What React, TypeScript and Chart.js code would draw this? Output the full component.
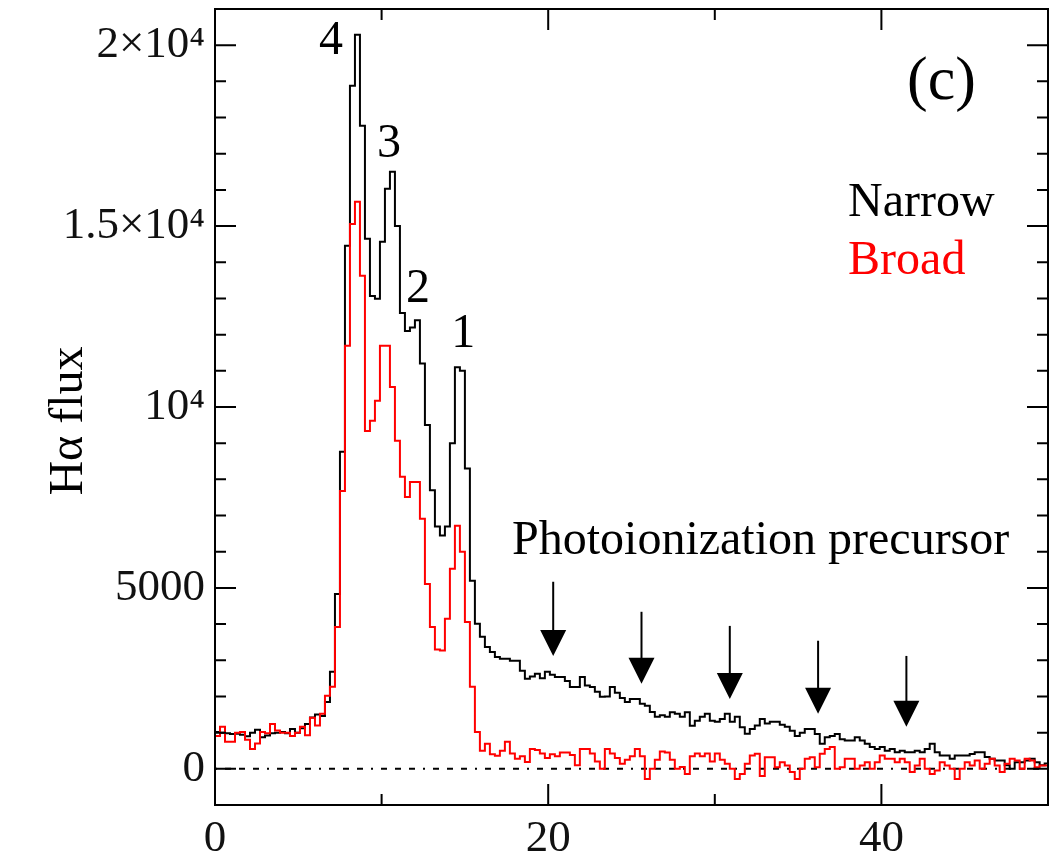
import React, { useEffect, useRef } from 'react';
import { Chart, registerables } from 'chart.js';

Chart.register(...registerables);

// Histogram bin width (x units) – bins start at 0
const BIN_WIDTH = 0.3;

// Narrow-component H-alpha flux per bin
const narrow = [
  1020, 1000, 980, 960, 970, 940, 900, 1000, 1080, 870,
  920, 980, 1000, 1020, 980, 1100, 1000, 1120, 1240, 1420,
  1500, 1460, 1850, 2680, 4830, 8760, 14460, 18880, 20290, 17770,
  14650, 13070, 12990, 14570, 16030, 16500, 15000, 12600, 12100, 12200,
  12400, 11200, 9500, 7700, 6700, 6450, 6700, 9000, 11100, 11000,
  8300, 5200, 4010, 3650, 3370, 3230, 3090, 3040, 3040, 2990,
  2990, 2710, 2490, 2550, 2630, 2500, 2680, 2600, 2540, 2540,
  2430, 2260, 2260, 2540, 2300, 2260, 2130, 1990, 2000, 2260,
  2100, 1960, 1850, 1930, 1930, 1800, 1740, 1570, 1440, 1480,
  1440, 1560, 1520, 1440, 1560, 1190, 1330, 1440, 1520, 1330,
  1300, 1380, 1520, 1300, 1440, 1150, 970, 1100, 1200, 1380,
  1250, 1300, 1300, 1220, 1160, 1050, 910, 1000, 1100, 1100,
  960, 690, 870, 910, 960, 820, 780, 780, 870, 780,
  690, 600, 550, 600, 500, 550, 460, 500, 460, 460,
  500, 460, 550, 690, 460, 370, 370, 280, 370, 370,
  370, 410, 460, 460, 330, 280, 230, 230, 100, 0,
  180, 180, 230, 280, 180, 100, 150,
];

// Broad-component H-alpha flux per bin
const broad = [
  910, 1160, 750, 750, 1000, 1020, 800, 550, 700, 1020,
  980, 1240, 1060, 1000, 1000, 910, 1000, 1160, 930, 1410,
  1200, 1520, 2020, 2270, 3920, 7680, 11690, 15060, 15670, 13630,
  9340, 9620, 10170, 11690, 11690, 10550, 9070, 8070, 7510, 7930,
  7930, 6910, 5110, 3920, 3300, 3270, 4150, 5530, 6720, 6000,
  4060, 2270, 1020, 500, 690, 400, 360, 500, 750, 420,
  280, 350, 190, 550, 520, 420, 300, 400, 350, 450,
  450, 380, 100, 550, 550, 420, 200, 0, 550, 420,
  300, 140, 250, 350, 550, 350, -280, 0, 250, 480,
  450, 250, 0, 50, -140, 350, 420, 350, 420, 200,
  420, 250, 140, 0, -280, -140, 140, 370, 415, -200,
  320, 320, 45, 180, 90, -90, -280, 0, 280, 320,
  45, 415, 550, 600, 0, 45, 280, 280, 0, 90,
  180, 0, 180, 370, 280, 280, 180, 280, 180, -90,
  90, 280, 0, -140, -45, 180, 90, 0, -280, 0,
  180, 90, 230, 0, 140, 280, 90, -90, 140, 280,
  230, 0, 280, 230, 45, 90, 90,
];

// Axis ranges and ticks
const X_MIN = 0;
const X_MAX = 50;
const Y_MIN = -1000;
const Y_MAX = 21000;
const xTickValues = [0, 20, 40];
const xTickLabels = ['0', '20', '40'];
const yTickValues = [0, 5000, 10000, 15000, 20000];
const yTickLabels = ['0', '5000', '10\u2074', '1.5\u00d710\u2074', '2\u00d710\u2074'];
const X_MINOR = 10;
const X_MAJOR = 20;
const Y_MINOR = 1000;
const Y_MAJOR = 5000;

// Peak labels
const peakLabels = ['4', '3', '2', '1'];
const peakX = [6.97, 10.45, 12.19, 14.9];
const peakY = [19760, 16915, 12910, 11660];

// Photoionization precursor arrows
const arrowX = [20.3, 25.6, 30.9, 36.2, 41.5];
const arrowTail = [5170, 4340, 3950, 3540, 3120];
const arrowTip = [3120, 2350, 1930, 1520, 1160];

const FONT = '"Liberation Serif", "Times New Roman", serif';

const toPoints = (vals: number[]) => {
  const pts = vals.map((v, i) => ({ x: i * BIN_WIDTH, y: v }));
  pts.push({ x: vals.length * BIN_WIDTH, y: vals[vals.length - 1] });
  return pts;
};

const decorPlugin = {
  id: 'decor',
  beforeDatasetsDraw(chart: any) {
    const { ctx, chartArea: a, scales } = chart;
    const y0 = scales.y.getPixelForValue(0);
    ctx.save();
    ctx.beginPath();
    ctx.rect(a.left, a.top, a.width, a.height);
    ctx.clip();
    ctx.strokeStyle = '#000';
    ctx.lineWidth = 2;
    ctx.setLineDash([2, 8, 6, 8, 6, 8, 6, 8]);
    ctx.beginPath();
    ctx.moveTo(a.left, y0);
    ctx.lineTo(a.right, y0);
    ctx.stroke();
    ctx.restore();
  },
  afterDraw(chart: any) {
    const { ctx, chartArea: a, scales } = chart;
    const xs = scales.x;
    const ys = scales.y;
    ctx.save();
    ctx.strokeStyle = '#000';
    ctx.lineWidth = 2;
    ctx.setLineDash([]);
    ctx.beginPath();
    for (let v = X_MIN; v <= X_MAX + 1e-9; v += X_MINOR) {
      const px = xs.getPixelForValue(v);
      const len = v % X_MAJOR === 0 ? 21 : 11;
      ctx.moveTo(px, a.bottom);
      ctx.lineTo(px, a.bottom - len);
      ctx.moveTo(px, a.top);
      ctx.lineTo(px, a.top + len);
    }
    for (let v = 0; v <= Y_MAX + 1e-9; v += Y_MINOR) {
      const py = ys.getPixelForValue(v);
      const len = v % Y_MAJOR === 0 ? 21 : 11;
      ctx.moveTo(a.left, py);
      ctx.lineTo(a.left + len, py);
      ctx.moveTo(a.right, py);
      ctx.lineTo(a.right - len, py);
    }
    ctx.stroke();
    ctx.strokeRect(a.left, a.top, a.width, a.height);

    // arrows
    ctx.fillStyle = '#000';
    for (let i = 0; i < arrowX.length; i++) {
      const px = xs.getPixelForValue(arrowX[i]);
      const pt = ys.getPixelForValue(arrowTail[i]);
      const pp = ys.getPixelForValue(arrowTip[i]);
      ctx.beginPath();
      ctx.moveTo(px, pt);
      ctx.lineTo(px, pp - 20);
      ctx.stroke();
      ctx.beginPath();
      ctx.moveTo(px - 13, pp - 26);
      ctx.lineTo(px + 13, pp - 26);
      ctx.lineTo(px, pp);
      ctx.closePath();
      ctx.fill();
    }

    // texts
    ctx.fillStyle = '#000';
    ctx.textBaseline = 'alphabetic';
    ctx.font = `48px ${FONT}`;
    ctx.textAlign = 'center';
    for (let i = 0; i < peakLabels.length; i++) {
      ctx.fillText(peakLabels[i], xs.getPixelForValue(peakX[i]), ys.getPixelForValue(peakY[i]));
    }
    ctx.textAlign = 'left';
    ctx.fillText('Photoionization precursor', xs.getPixelForValue(17.83), ys.getPixelForValue(5940));
    ctx.fillText('Narrow', xs.getPixelForValue(38.0), ys.getPixelForValue(15285));
    ctx.fillStyle = '#ff0000';
    ctx.fillText('Broad', xs.getPixelForValue(38.0), ys.getPixelForValue(13680));
    ctx.fillStyle = '#000';
    ctx.font = `62px ${FONT}`;
    ctx.fillText('(c)', xs.getPixelForValue(41.54), ys.getPixelForValue(18520));

    // y axis title
    ctx.font = `48px ${FONT}`;
    ctx.textAlign = 'center';
    ctx.translate(82, 421);
    ctx.rotate(-Math.PI / 2);
    ctx.fillText('H\u03b1 flux', 0, 0);
    ctx.restore();
  },
};

export default function App() {
  const ref = useRef<HTMLCanvasElement | null>(null);
  useEffect(() => {
    if (!ref.current) return;
    const chart = new Chart(ref.current, {
      type: 'line',
      data: {
        datasets: [
          {
            label: 'Broad',
            data: toPoints(broad),
            borderColor: '#ff0000',
            borderWidth: 2,
            pointRadius: 0,
            stepped: true,
            fill: false,
          },
          {
            label: 'Narrow',
            data: toPoints(narrow),
            borderColor: '#000000',
            borderWidth: 2,
            pointRadius: 0,
            stepped: true,
            fill: false,
          },
        ],
      },
      options: {
        animation: false,
        responsive: false,
        parsing: false as any,
        layout: { padding: { left: 0, right: 8, top: 9, bottom: 0 } },
        plugins: { legend: { display: false }, tooltip: { enabled: false } },
        scales: {
          x: {
            type: 'linear',
            min: X_MIN,
            max: X_MAX,
            grid: { display: false, drawTicks: false },
            border: { display: false },
            afterBuildTicks: (s: any) => {
              s.ticks = xTickValues.map((v) => ({ value: v }));
            },
            afterFit: (s: any) => {
              s.height = 57;
              s.paddingLeft = 0;
              s.paddingRight = 0;
            },
            ticks: {
              autoSkip: false,
              maxRotation: 0,
              padding: 7,
              color: '#111',
              font: { family: FONT, size: 45 },
              callback: (v: any) => {
                const i = xTickValues.indexOf(Number(v));
                return i >= 0 ? xTickLabels[i] : '';
              },
            },
          },
          y: {
            type: 'linear',
            min: Y_MIN,
            max: Y_MAX,
            grid: { display: false, drawTicks: false },
            border: { display: false },
            afterBuildTicks: (s: any) => {
              s.ticks = yTickValues.map((v) => ({ value: v }));
            },
            afterFit: (s: any) => {
              s.width = 215;
              s.paddingTop = 0;
              s.paddingBottom = 0;
            },
            ticks: {
              autoSkip: false,
              padding: 10,
              color: '#111',
              font: { family: FONT, size: 45 },
              callback: (v: any) => {
                const i = yTickValues.indexOf(Number(v));
                return i >= 0 ? yTickLabels[i] : '';
              },
            },
          },
        },
      },
      plugins: [decorPlugin],
    });
    return () => chart.destroy();
  }, []);
  return (
    <div style={{ position: 'absolute', left: 0, top: 0, width: 1056, height: 862, background: '#fff' }}>
      <canvas ref={ref} width={1056} height={862} style={{ display: 'block' }} />
    </div>
  );
}
